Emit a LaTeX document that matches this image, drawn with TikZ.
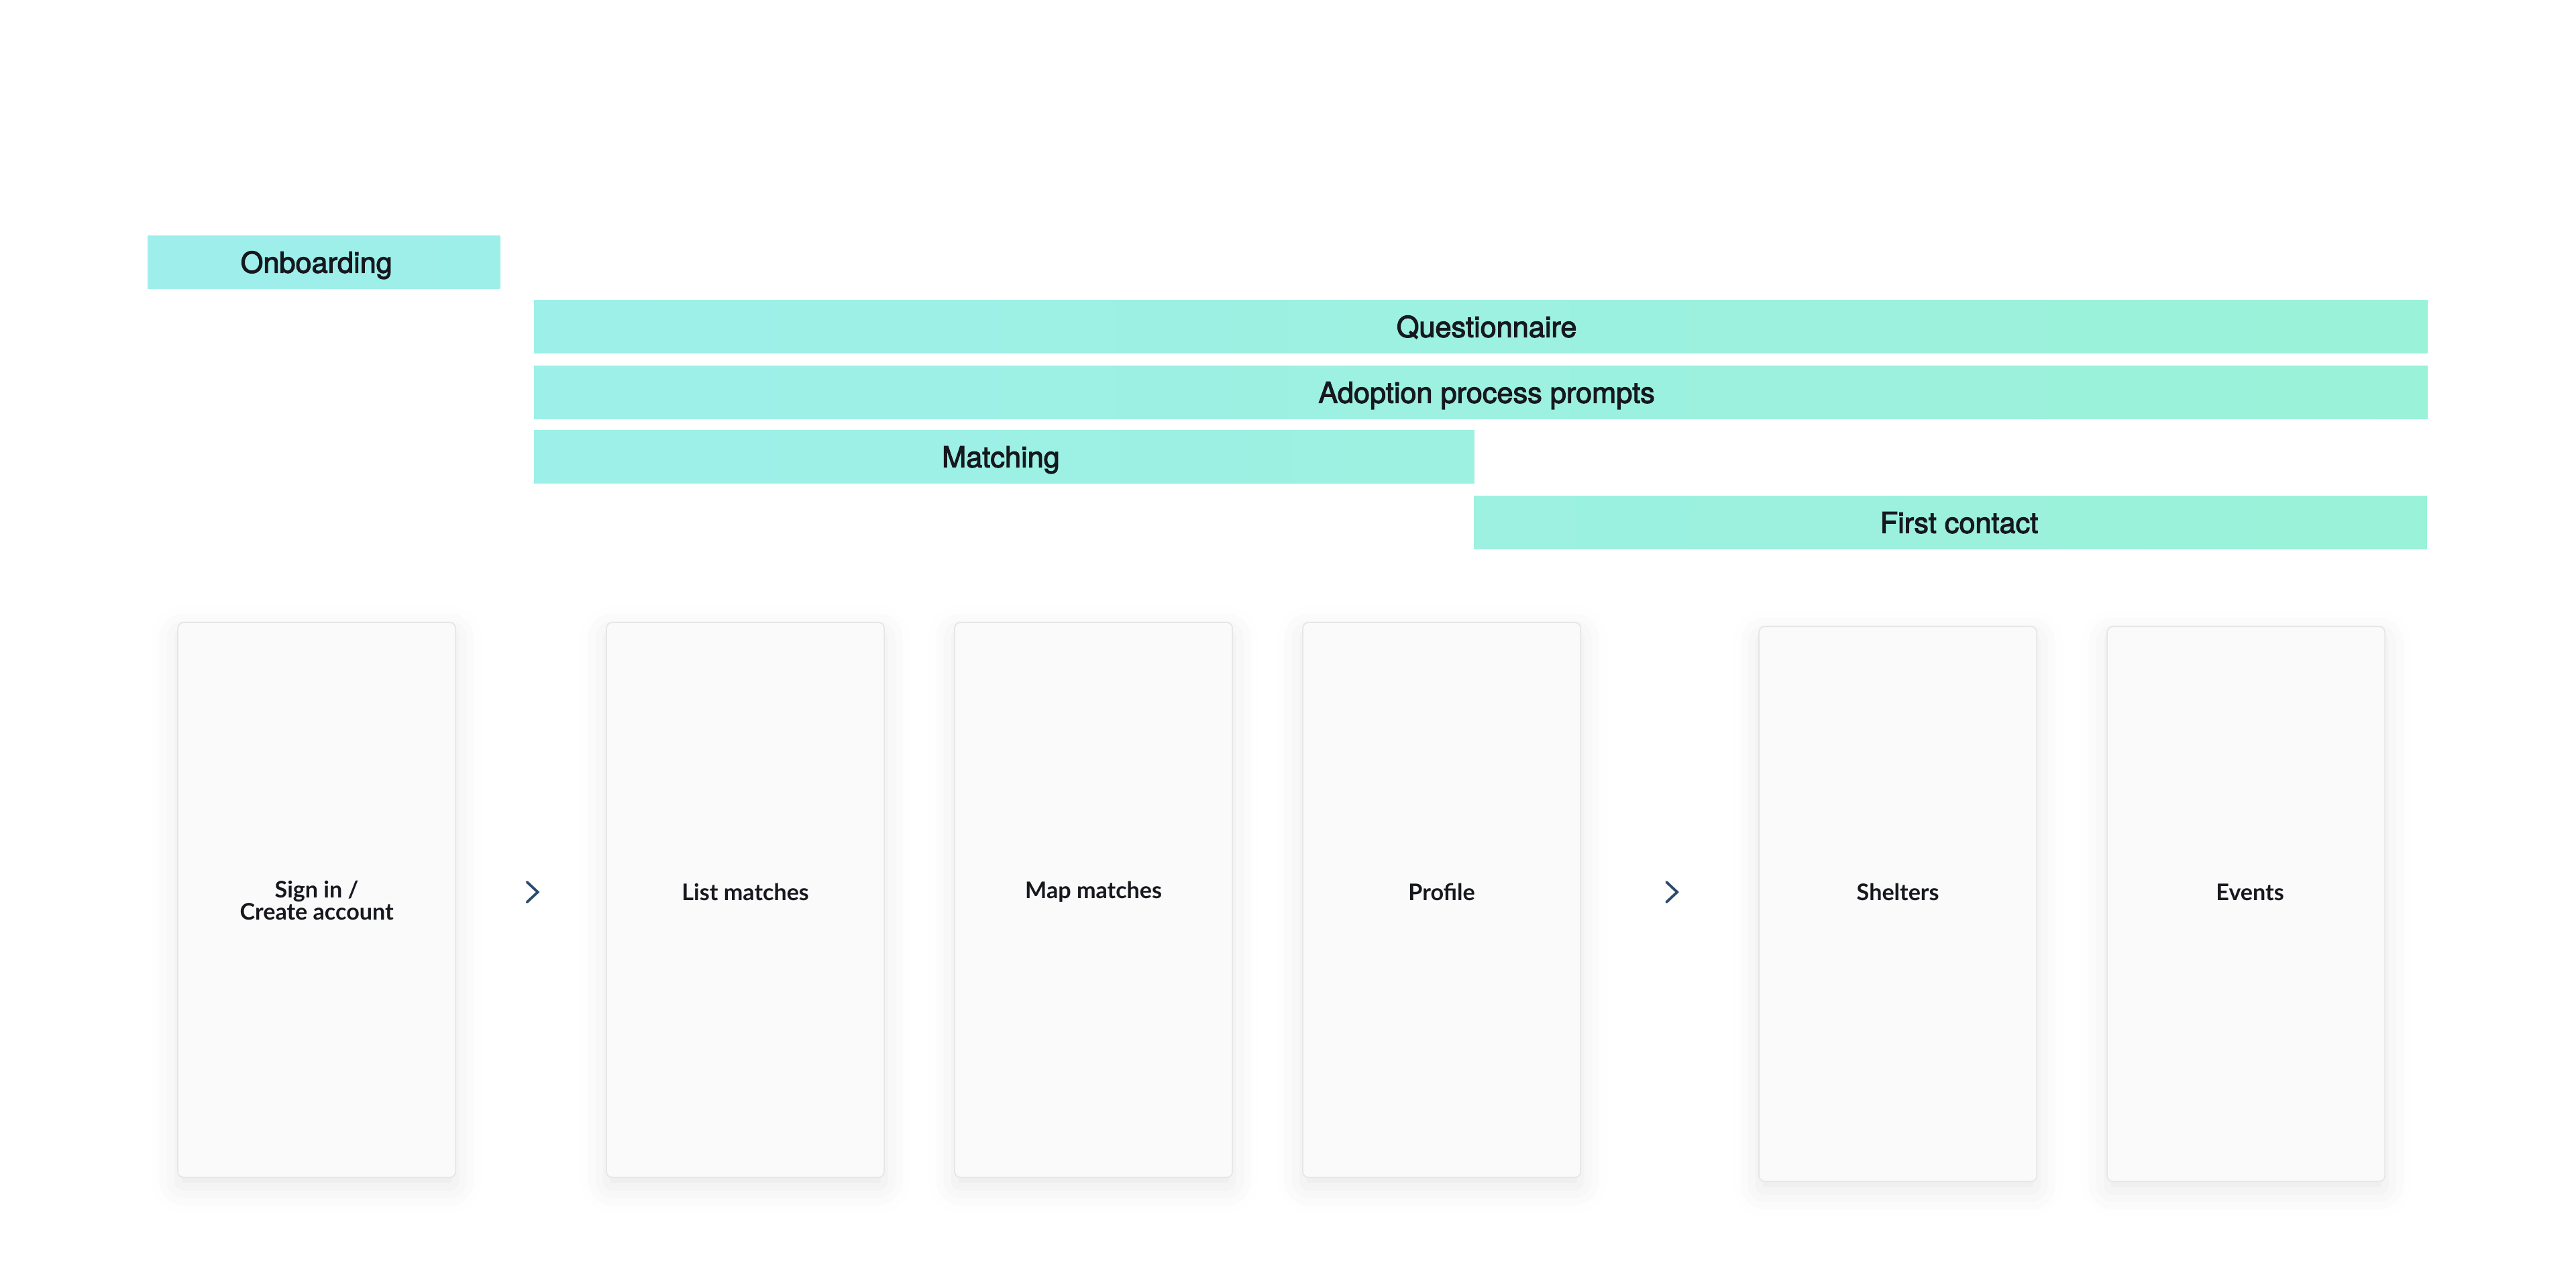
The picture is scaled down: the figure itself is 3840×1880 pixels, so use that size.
\documentclass[tikz,border=0pt]{standalone}
\usepackage{fontspec}
\setmainfont{TeX Gyre Heros}
\newfontfamily\barfont{TeX Gyre Heros}[FakeBold=2.6]
\newfontfamily\cardfont{Lato}
\usetikzlibrary{shadows.blur,calc}
\definecolor{barL}{RGB}{158,239,236}
\definecolor{barR}{RGB}{154,242,216}
\definecolor{cardfill}{RGB}{250,250,250}
\definecolor{cardline}{RGB}{230,230,230}
\definecolor{chevcol}{RGB}{43,75,110}
\definecolor{ink}{RGB}{22,24,30}
\tikzset{
  bar/.style={anchor=north west, inner sep=0pt, outer sep=0pt, minimum height=0.78cm,
    text=ink, text height=8.9pt, text depth=0pt,
    font=\barfont\fontsize{12.3}{14}\selectfont},
  card/.style={anchor=north west, inner sep=0pt, outer sep=0pt, minimum width=4.14cm,
    minimum height=8.27cm, draw=cardline, line width=0.5pt, fill=cardfill,
    rounded corners=2.5pt,
    blur shadow={shadow xshift=0pt, shadow yshift=-4pt, shadow blur radius=11pt,
      shadow opacity=9}},
  cardtext/.style={text=ink, inner sep=0pt, align=center,
    font=\cardfont\bfseries\fontsize{9.7}{9.4}\selectfont},
  chevron/.style={draw=chevcol, line width=1.1pt, line cap=round, line join=miter}
}
\begin{document}
\begin{tikzpicture}[x=0.01cm, y=-0.01cm]
\useasboundingbox (0,0) rectangle (3840,1880);
% phase bars
\node[bar, minimum width=5.25cm, left color=barL, right color=barR!15!barL] (onb) at (220,352) {\hspace*{-6.2pt}Onboarding};
\node[bar, minimum width=28.21cm, left color=barR!17!barL, right color=barR] (que) at (796,448) {\hspace*{5pt}Questionnaire};
\node[bar, minimum width=28.21cm, left color=barR!17!barL, right color=barR] (ado) at (796,546) {\hspace*{5pt}Adoption process prompts};
\node[bar, minimum width=14.01cm, left color=barR!17!barL, right color=barR!58!barL] (mat) at (796,642) {\hspace*{-2.8pt}Matching};
\node[bar, minimum width=14.20cm, left color=barR!58!barL, right color=barR] (fc) at (2197,740) {\hspace*{7.4pt}First contact};
% screen cards
\node[card] (c1) at (265,928) {};
\node[card] (c2) at (904,928) {};
\node[card] (c3) at (1423,928) {};
\node[card] (c4) at (1942,928) {};
\node[card] (c5) at (2622,934) {};
\node[card] (c6) at (3141,934) {};
\coordinate (ty) at (0,1330);
\coordinate (ty2) at (0,1342);
\node[cardtext] (t1) at (c1.center |- ty2) {Sign in /\\Create account};
\node[cardtext] (t2) at (c2.center |- ty) {List matches};
\node[cardtext] (t3) at (c3.center |- ty) {Map matches};
\node[cardtext] (t4) at (c4.center |- ty) {Profile};
\node[cardtext] (t5) at (c5.center |- ty) {Shelters};
\node[cardtext] (t6) at ($(c6.center |- ty)+(6,0)$) {Events};
% chevrons between groups
\coordinate (a1) at (c1.east |- ty);
\coordinate (a2) at (c2.west |- ty);
\coordinate (m1) at ($(a1)!0.5!(a2)+(2,0)$);
\coordinate (b1) at (c4.east |- ty);
\coordinate (b2) at (c5.west |- ty);
\coordinate (m2) at ($(b1)!0.5!(b2)+(3,0)$);
\draw[chevron, shift={(m1)}] (-8,-15) -- (8,0) -- (-8,15);
\draw[chevron, shift={(m2)}] (-8,-15) -- (8,0) -- (-8,15);
\end{tikzpicture}
\end{document}
